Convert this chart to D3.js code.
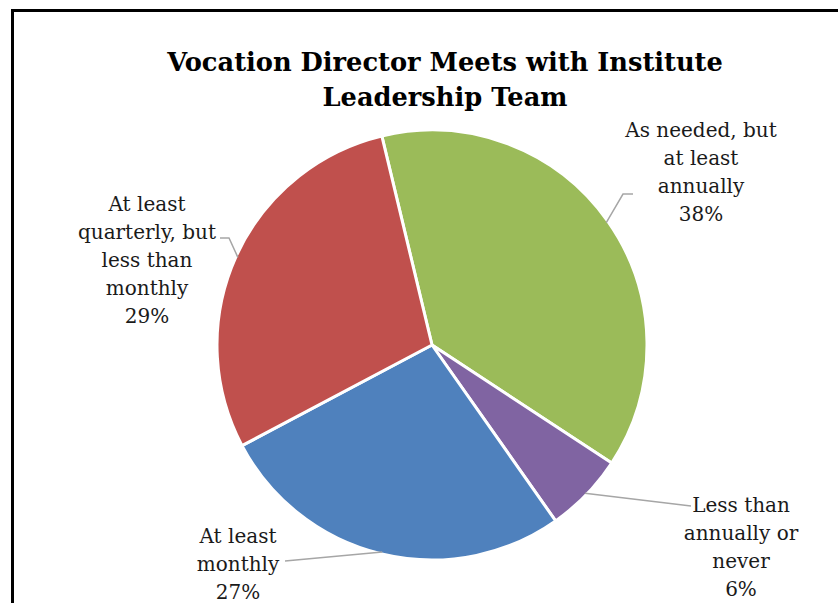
<!DOCTYPE html>
<meta charset="utf-8">
<style>
body { margin: 0; background: #fff; }
svg { display: block; }
.title { font: bold 25.7px "DejaVu Serif", serif; fill: #000; text-anchor: middle; }
.label { font: 20px "DejaVu Serif", serif; fill: #1a1a1a; text-anchor: middle; }
.leader { fill: none; stroke: #a6a6a6; stroke-width: 1.5px; }
</style>
<body>
<div id="pie"></div>
<script src="https://d3js.org/d3.v7.min.js"></script>
<script>
// slices, clockwise from the first one
var categories = ["As needed, but at least annually", "Less than annually or never", "At least monthly", "At least quarterly, but less than monthly"];
var values = [38, 6, 27, 29];
var colors = ["#9bbb59", "#8064a2", "#4f81bd", "#c0504d"];
var labelLines = [
  ["As needed, but", "at least", "annually"],
  ["Less than", "annually or", "never"],
  ["At least", "monthly"],
  ["At least", "quarterly, but", "less than", "monthly"]
];
var titleLines = ["Vocation Director Meets with Institute", "Leadership Team"];

var width = 838, height = 603,
    cx = 432, cy = 345, radius = 215,
    startDeg = -13.5;

var svg = d3.select("#pie").append("svg")
    .attr("width", width)
    .attr("height", height);

svg.append("rect")
    .attr("x", 12.5).attr("y", 10.5)
    .attr("width", width + 20).attr("height", height + 20)
    .attr("fill", "#fff")
    .attr("stroke", "#000")
    .attr("stroke-width", 3);

svg.selectAll(".title").data(titleLines)
  .enter().append("text")
    .attr("class", "title")
    .attr("x", 445)
    .attr("y", function(d, i) { return 71 + i * 35; })
    .text(function(d) { return d; });

var pie = d3.pie()
    .sort(null)
    .startAngle(startDeg * Math.PI / 180)
    .endAngle((startDeg + 360) * Math.PI / 180);

var arc = d3.arc().innerRadius(0).outerRadius(radius);

var g = svg.append("g").attr("transform", "translate(" + cx + "," + cy + ")");

var arcs = pie(values);

g.selectAll("path.slice").data(arcs)
  .enter().append("path")
    .attr("class", "slice")
    .attr("d", arc)
    .attr("fill", function(d, i) { return colors[i]; })
    .attr("stroke", "#fff")
    .attr("stroke-width", 3)
    .attr("stroke-linejoin", "round");

// label placement (centre x, first baseline) and leader line elbow, page coords
var labelPos = [
  {x: 701, y: 137, line: [[633, 194], [623, 194]]},
  {x: 741, y: 512, line: [[691, 506], [691, 506]]},
  {x: 238, y: 543, line: [[285, 561], [285, 561]]},
  {x: 147, y: 211, line: [[220, 238], [229, 238]]}
];
var lineH = 28;

arcs.forEach(function(d, i) {
  var p = labelPos[i];
  // leader ends on the rim at the middle of the slice
  var a = (d.startAngle + d.endAngle) / 2;
  var rim = [cx + Math.sin(a) * (radius - 2), cy - Math.cos(a) * (radius - 2)];
  svg.append("path")
    .attr("class", "leader")
    .attr("d", d3.line()([p.line[0], p.line[1], rim]));

  var lines = labelLines[i].concat([d3.format(".0%")(values[i] / d3.sum(values))]);
  svg.append("g").selectAll("text").data(lines)
    .enter().append("text")
      .attr("class", "label")
      .attr("x", p.x)
      .attr("y", function(t, j) { return p.y + j * lineH; })
      .text(function(t) { return t; });
});
</script>
